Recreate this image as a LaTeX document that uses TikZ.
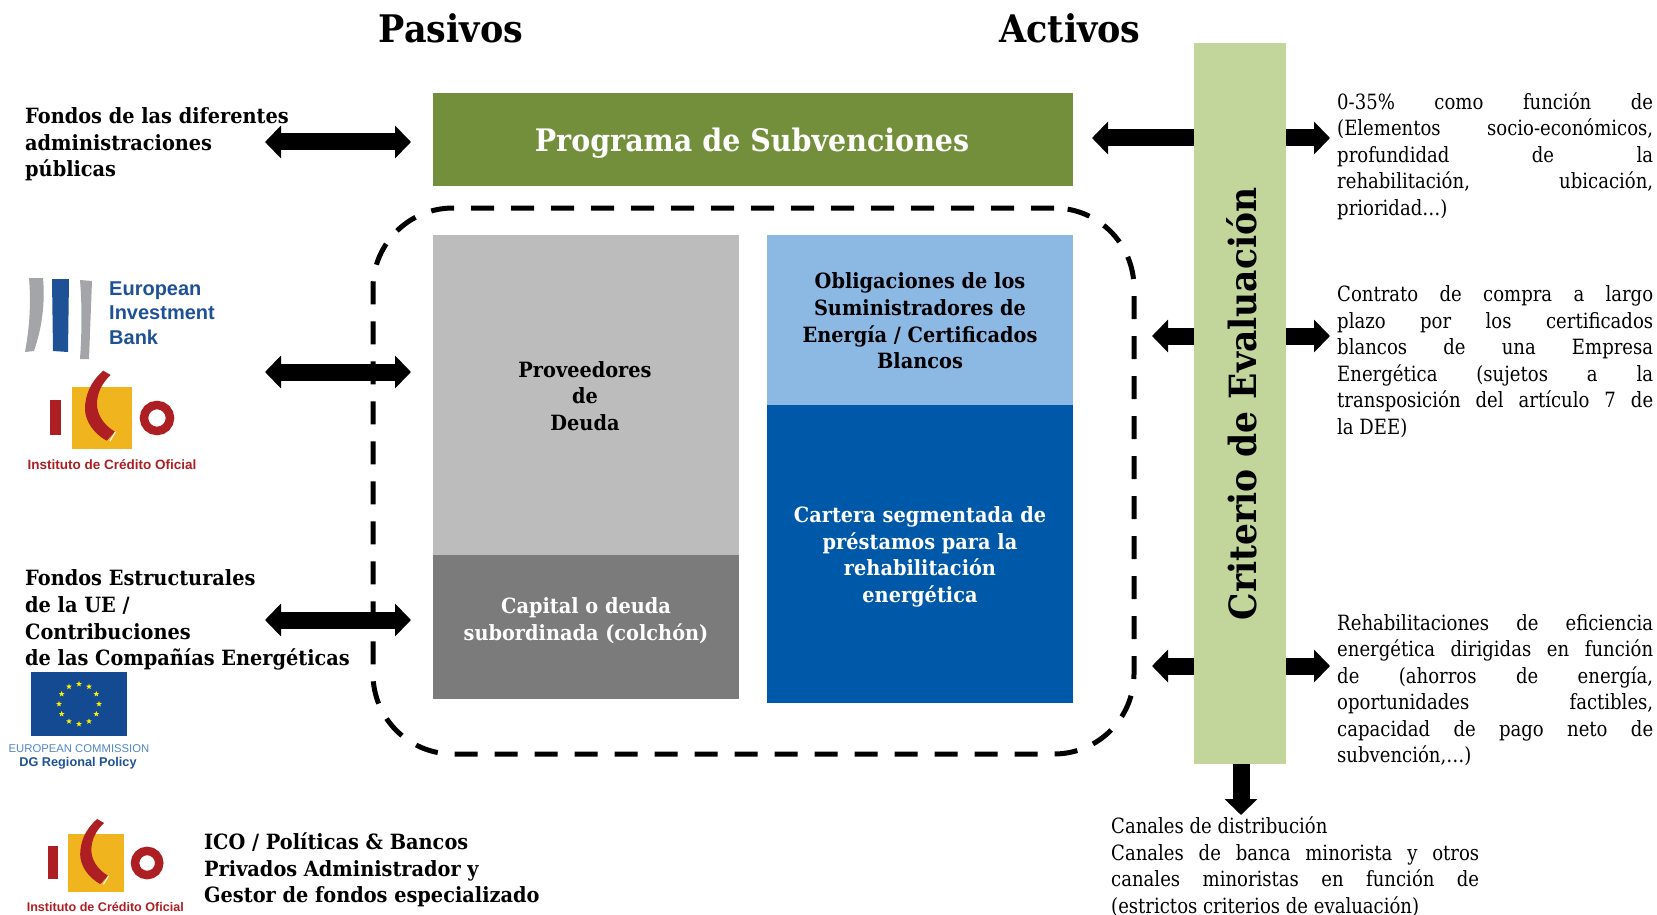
\documentclass[tikz,border=0pt]{standalone}
\usepackage{fontspec}
\setmainfont{DejaVu Serif}[UprightFeatures={FakeStretch=.86},BoldFeatures={FakeStretch=.92}]
\newfontfamily\logosans{Liberation Sans}
\usetikzlibrary{arrows.meta,shapes.geometric}
\definecolor{barG}{HTML}{738F3B}
\definecolor{critG}{HTML}{C2D59A}
\definecolor{greyL}{HTML}{BCBCBC}
\definecolor{greyD}{HTML}{7B7B7B}
\definecolor{blueL}{HTML}{8CB8E4}
\definecolor{blueD}{HTML}{0058A9}
\definecolor{icoR}{HTML}{AE1F23}
\definecolor{icoY}{HTML}{F0B51E}
\definecolor{eibB}{HTML}{1F5196}
\definecolor{eibG}{HTML}{A3A5A8}
\definecolor{euB}{HTML}{134A92}
\definecolor{euL}{HTML}{4F86C6}
\tikzset{
 box/.style={inner sep=0pt,outer sep=0pt},
 bt/.style={font=\fontsize{21}{26.7}\selectfont\bfseries,align=center,inner sep=0pt},
 lt/.style={font=\fontsize{21}{26.7}\selectfont\bfseries,align=left,inner sep=0pt,anchor=west},
 jt/.style={font=\fontsize{21}{26.5}\selectfont,inner sep=0pt,anchor=west,text width=316pt,align=justify},
 title/.style={font=\fontsize{38}{44}\selectfont\bfseries,inner sep=0pt},
 fatarrow/.style={line width=17pt,-{Triangle[length=16pt,width=32pt]}},
 fatboth/.style={line width=17pt,{Triangle[length=16pt,width=32pt]}-{Triangle[length=16pt,width=32pt]}},
 icologo/.pic={
  \fill[icoY] (-30,-31) rectangle (30,31);
  \fill[icoR] (-52,-18) rectangle (-41,17);
  \fill[icoR] (1.3,-47.3) .. controls (-12,-36) and (-17,-22) .. (-17,-9)
     .. controls (-17,3) and (-8,16) .. (4.7,22.7) -- (13,13.7)
     .. controls (0,6) and (-5,-5) .. (-5,-14)
     .. controls (-5,-25) and (0,-35) .. (8.7,-43) -- cycle;
  \draw[white,line width=1pt] (13.5,13.7) -- (8,23);
  \draw[icoR,line width=8.5pt] (55,0) circle (13);
  \node[inner sep=0pt,text=icoR,transform shape,font=\logosans\fontsize{13.5}{14}\selectfont\bfseries] (-cap) at (10,47) {Instituto de Crédito Oficial};
 }
}
\begin{document}
\begin{tikzpicture}[x=1pt,y=-1pt]
\useasboundingbox (0,0) rectangle (1657,915);
% titles
\node[title] (tp) at (451,28) {Pasivos};
\node[title] (ta) at (1070,28) {Activos};
% dashed frame
\node[box,draw,line width=5pt,rounded corners=80pt,dash pattern=on 23pt off 17pt,minimum width=761pt,minimum height=546pt] (frame) at (753.5,481) {};
% blocks
\node[box,fill=barG,minimum width=640pt,minimum height=93pt] (prog) at (753,139.5) {};
\node[inner sep=0pt,text=white,font=\fontsize{31}{36}\selectfont\bfseries] (progt) at (752,143.5) {Programa de Subvenciones};
\node[box,fill=greyL,minimum width=306pt,minimum height=320pt] (prov) at (586,395) {};
\node[bt] (provt) at (585,396) {Proveedores\\de\\Deuda};
\node[box,fill=greyD,minimum width=306pt,minimum height=144pt] (cap) at (586,627) {};
\node[bt,text=white] (capt) at (586,621) {Capital o deuda\\subordinada (colchón)};
\node[box,fill=blueL,minimum width=306pt,minimum height=170pt] (obl) at (920,320) {};
\node[bt] (oblt) at (920,321) {Obligaciones de los\\Suministradores de\\Energía / Certificados\\Blancos};
\node[box,fill=blueD,minimum width=306pt,minimum height=298pt] (car) at (920,554) {};
\node[bt,text=white] (cart) at (920,557) {Cartera segmentada de\\préstamos para la\\rehabilitación\\energética};
\node[box,fill=critG,minimum width=92pt,minimum height=721pt] (crit) at (1240,403.5) {};
\node[rotate=90,inner sep=0pt,font=\fontsize{37.5}{42}\selectfont\bfseries] (critt) at (1242,404) {Criterio de Evaluación};
% left texts
\node[lt] (l1) at (25,144.5) {Fondos de las diferentes\\administraciones\\públicas};
\node[lt] (l2) at (25,620) {Fondos Estructurales\\de la UE /\\Contribuciones\\de las Compañías Energéticas};
\node[lt] (l3) at (204,870) {ICO / Políticas \& Bancos\\Privados Administrador y\\Gestor de fondos especializado};
% right texts
\node[jt] (r1) at (1337,156) {0-35\% como función de\linebreak (Elementos socio-económicos,\linebreak profundidad de la\linebreak rehabilitación, ubicación,\linebreak prioridad…)};
\node[jt] (r2) at (1337,361.5) {Contrato de compra a largo\linebreak plazo por los certificados\linebreak blancos de una Empresa\linebreak Energética (sujetos a la\linebreak transposición del artículo 7 de\linebreak la DEE)};
\node[jt] (r3) at (1337,690) {Rehabilitaciones de eficiencia\linebreak energética dirigidas en función\linebreak de (ahorros de energía,\linebreak oportunidades factibles,\linebreak capacidad de pago neto de\linebreak subvención,…)};
\node[jt,text width=368pt] (r4) at (1111,866.5) {Canales de distribución\\Canales de banca minorista y otros\linebreak canales minoristas en función de\linebreak (estrictos criterios de evaluación)};
% connectors
\coordinate (d1l) at (265,142); \coordinate (d1r) at (411,142);
\coordinate (d2l) at (265,372); \coordinate (d2r) at (411,372);
\coordinate (d3l) at (265,620); \coordinate (d3r) at (411,620);
\draw[fatboth] (d1l) -- (d1r);
\draw[fatboth] (d2l) -- (d2r);
\draw[fatboth] (d3l) -- (d3r);
\coordinate (al1) at (1092,138); \coordinate (ar1) at (1330,138);
\coordinate (al2) at (1152,336); \coordinate (ar2) at (1330,336);
\coordinate (al3) at (1152,666); \coordinate (ar3) at (1330,666);
\coordinate (dn) at (1241,815);
\foreach \n in {1,2,3}{
 \draw[fatarrow] (crit.west |- al\n) -- (al\n);
 \draw[fatarrow] (crit.east |- ar\n) -- (ar\n);
}
\draw[fatarrow] (crit.south -| dn) -- (dn);
% EIB logo
\fill[eibG] (29,278) -- (43,278) .. controls (45,300) and (43,325) .. (34,351) -- (25,352) .. controls (30,325) and (31,300) .. (29,278) -- cycle;
\fill[eibB] (52,279) -- (69,279) -- (68,352) -- (53,351) -- cycle;
\fill[eibG] (80,280) -- (92,281) -- (89,359) -- (80,359) .. controls (82,330) and (82,305) .. (80,280) -- cycle;
\node[inner sep=0pt,anchor=west,align=left,text=eibB,font=\logosans\fontsize{20}{24.7}\selectfont\bfseries] (eib) at (109,313) {European\\Investment\\Bank};
% ICO logos
\pic (ico1) at (102,418) {icologo};
\pic[scale=.93] (ico2) at (96,863) {icologo};
% EU logo
\node[box,fill=euB,minimum width=96pt,minimum height=64pt] (flag) at (79,704) {};
\begin{scope}[shift={(79,704)}]
\foreach \a in {0,30,...,330}{
 \node[star,star points=5,star point ratio=2.4,fill=yellow,inner sep=0pt,minimum size=6pt] (s\a) at (\a:20) {};
}
\end{scope}
\node[inner sep=0pt,text=euL,font=\logosans\fontsize{11.3}{14}\selectfont] (ec) at (79,749) {EUROPEAN COMMISSION};
\node[inner sep=0pt,text=eibB,font=\logosans\fontsize{12.7}{14}\selectfont\bfseries] (dg) at (78,763) {DG Regional Policy};
\end{tikzpicture}
\end{document}
